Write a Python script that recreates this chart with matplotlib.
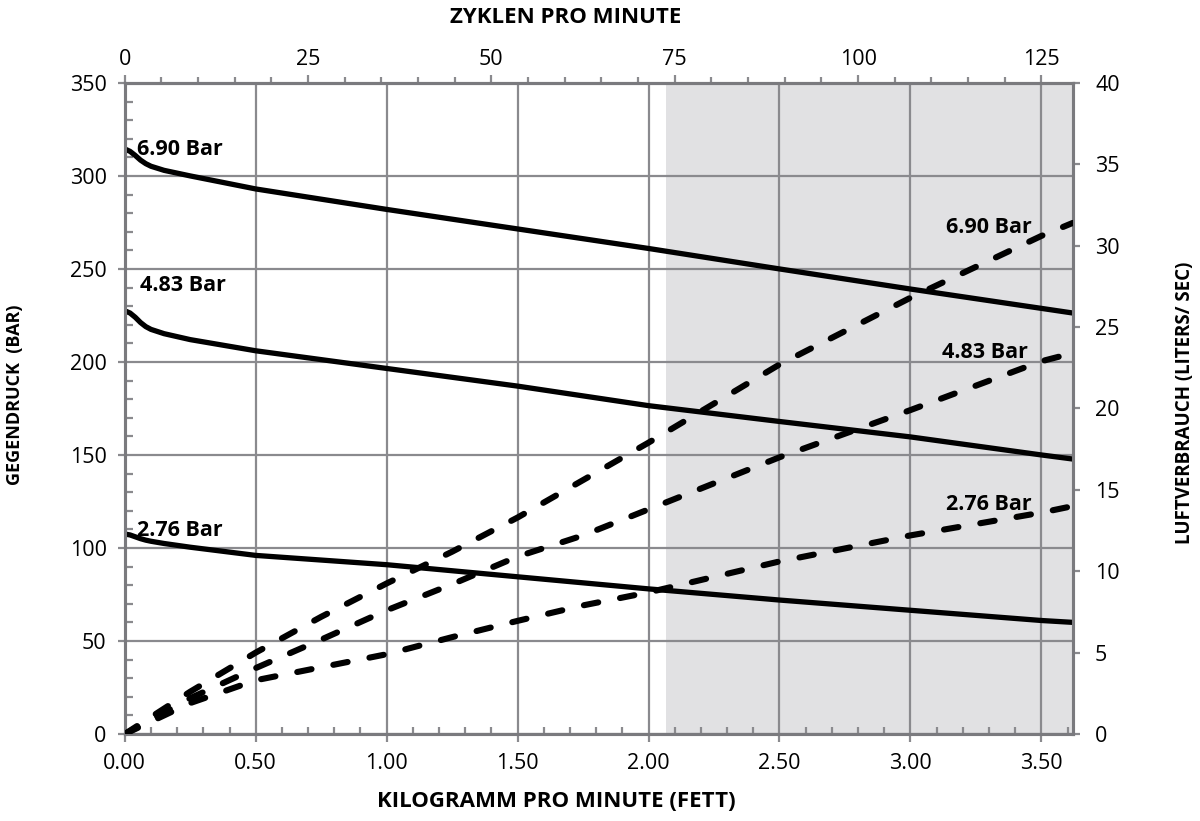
import numpy as np
import matplotlib
matplotlib.use('Agg')
import matplotlib.pyplot as plt
from matplotlib.ticker import MultipleLocator, FixedLocator, FormatStrFormatter

plt.rcParams['font.family'] = ['Open Sans', 'DejaVu Sans']
plt.rcParams['lines.scale_dashes'] = False

#%% Daten
kg_solid = [0, 0.02, 0.04, 0.06, 0.08, 0.1, 0.15, 0.25, 0.5, 1.0, 1.5, 2.0, 2.5, 3.0, 3.5, 3.62]
druck_690 = [314.5, 313.2, 311, 308.5, 306.6, 305.2, 303, 300, 293, 282, 271.5, 261, 250, 239.2, 228.8, 226.3]
druck_483 = [227.5, 226.3, 224, 221.2, 219, 217.5, 215.2, 212, 206, 196.5, 187, 176.5, 168, 159.7, 150, 147.8]
druck_276 = [107.5, 107, 106, 105, 104.2, 103.6, 102.4, 100.4, 96, 91, 84.5, 78, 72, 66.5, 61, 60]

kg_dash = [0, 0.25, 0.5, 0.75, 1.0, 1.25, 1.5, 1.75, 2.0, 2.5, 3.0, 3.5, 3.62]
luft_690 = [0, 2.6, 5.0, 7.2, 9.25, 11.2, 13.3, 15.6, 17.9, 22.7, 26.8, 30.6, 31.4]
luft_483 = [0, 2.2, 4.05, 5.8, 7.6, 9.2, 10.9, 12.2, 13.8, 17.0, 19.9, 22.9, 23.4]
luft_276 = [0, 1.9, 3.3, 4.1, 4.9, 5.95, 6.95, 7.9, 8.7, 10.6, 12.2, 13.6, 14.0]

labels = ['6.90 Bar', '4.83 Bar', '2.76 Bar']
shade_start = 2.065
x_max = 3.62
kg_per_cycles = 3.5 / 125.0
zyklen_ticks = [0, 25, 50, 75, 100, 125]

grau = '#8a8a8e'
spine_grau = '#7a7a7e'
fs_tick = 15.5

#%% Plot
fig = plt.figure(figsize=(12, 8.21), dpi=100)
ax = fig.add_axes([0.104, 0.106, 0.790, 0.793])
ax2 = ax.twinx()

ax.axvspan(shade_start, x_max, color='#e1e1e3', zorder=0, lw=0)

for y in [druck_690, druck_483, druck_276]:
    ax.plot(kg_solid, y, color='black', lw=3.8, zorder=3, solid_capstyle='butt')

for y in [luft_690, luft_483, luft_276]:
    ax2.plot(kg_dash, y, color='black', lw=4.4, dashes=(10.5, 16), dash_capstyle='round', zorder=3)

ax.set_xlim(0, x_max)
ax.set_ylim(0, 350)
ax2.set_ylim(0, 40)

ax.xaxis.set_major_locator(MultipleLocator(0.5))
ax.xaxis.set_minor_locator(MultipleLocator(0.1))
ax.xaxis.set_major_formatter(FormatStrFormatter('%.2f'))
ax.yaxis.set_major_locator(MultipleLocator(50))
ax.yaxis.set_minor_locator(MultipleLocator(10))
ax2.yaxis.set_major_locator(MultipleLocator(5))

ax.grid(True, which='major', color=grau, lw=1.6, zorder=1)
ax.set_axisbelow(True)

ax.tick_params(axis='x', which='major', direction='out', length=6, width=1.6, color=grau, labelsize=fs_tick, pad=8)
ax.tick_params(axis='x', which='minor', direction='in', length=5, width=1.6, color=grau)
ax.tick_params(axis='y', which='major', direction='out', length=5, width=1.6, color=grau, labelsize=fs_tick, pad=8)
ax.tick_params(axis='y', which='minor', direction='in', length=6, width=1.6, color=grau)
ax2.tick_params(axis='y', which='major', direction='out', length=5, width=1.6, color=grau, labelsize=fs_tick, pad=11)

top = ax.secondary_xaxis('top', functions=(lambda x: x / kg_per_cycles, lambda c: c * kg_per_cycles))
top.xaxis.set_major_locator(FixedLocator(zyklen_ticks))
top.xaxis.set_minor_locator(FixedLocator(list(range(0, 130, 5))))
top.tick_params(which='major', direction='out', length=6, width=1.6, color=grau, labelsize=fs_tick, pad=3)
top.tick_params(which='minor', direction='out', length=4.5, width=1.6, color=grau)
top.spines['top'].set_color(spine_grau)
top.spines['top'].set_linewidth(2.2)

for a in [ax, ax2]:
    for s in a.spines.values():
        s.set_color(spine_grau)
        s.set_linewidth(2.2)

# Achsentitel
fig.text(0.464, 0.024, 'KILOGRAMM PRO MINUTE (FETT)', fontsize=16, fontweight='bold', ha='center', va='center')
fig.text(0.471, 0.979, 'ZYKLEN PRO MINUTE', fontsize=16, fontweight='bold', ha='center', va='center')
fig.text(0.0125, 0.519, 'GEGENDRUCK  (BAR)', fontsize=13, fontweight='bold', rotation=90, ha='center', va='center')
fig.text(0.9875, 0.509, 'LUFTVERBRAUCH (LITERS/ SEC)', fontsize=13.5, fontweight='bold', rotation=90, ha='center', va='center')

# Beschriftungen der Kurven
fs_lab = 15.5
ax.text(0.046, 311.3, labels[0], fontsize=fs_lab, fontweight='bold', ha='left', va='baseline', zorder=4)
ax.text(0.057, 238, labels[1], fontsize=fs_lab, fontweight='bold', ha='left', va='baseline', zorder=4)
ax.text(0.046, 106.5, labels[2], fontsize=fs_lab, fontweight='bold', ha='left', va='baseline', zorder=4)
ax2.text(3.462, 30.8, labels[0], fontsize=fs_lab, fontweight='bold', ha='right', va='baseline', zorder=4)
ax2.text(3.447, 23.1, labels[1], fontsize=fs_lab, fontweight='bold', ha='right', va='baseline', zorder=4)
ax2.text(3.462, 13.76, labels[2], fontsize=fs_lab, fontweight='bold', ha='right', va='baseline', zorder=4)

fig.savefig('out.png', dpi=100)
